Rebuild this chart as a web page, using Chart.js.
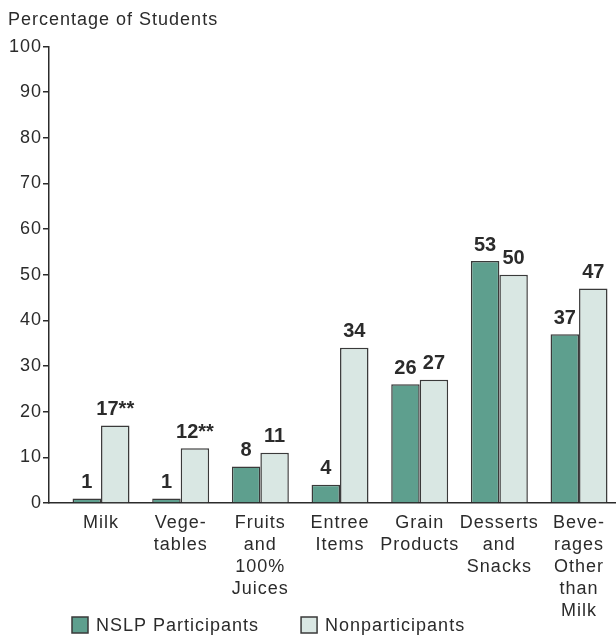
<!DOCTYPE html>
<html>
<head>
<meta charset="utf-8">
<script src="https://cdn.jsdelivr.net/npm/chart.js@4/dist/chart.umd.min.js"></script>
<style>
  html, body { margin: 0; padding: 0; background: #fff; }
  #wrap { width: 616px; height: 637px; }
</style>
</head>
<body>
<div id="wrap"><canvas id="foodChart"></canvas></div>
<script>
// Food categories (multi-line tick labels)
const categories = [
    ['Milk'],
    ['Vege-', 'tables'],
    ['Fruits', 'and', '100%', 'Juices'],
    ['Entree', 'Items'],
    ['Grain', 'Products'],
    ['Desserts', 'and', 'Snacks'],
    ['Beve-', 'rages', 'Other', 'than', 'Milk']
];

// Percent of students in each group
const participants = [1, 1, 8, 4, 26, 53, 37];
const nonparticipants = [17, 12, 11, 34, 27, 50, 47];
// Significance markers appended to the value labels
const participantNotes = ['', '', '', '', '', '', ''];
const nonparticipantNotes = ['**', '**', '', '', '', '', ''];

const yTicks = [0, 10, 20, 30, 40, 50, 60, 70, 80, 90, 100];

const FONT = "'Liberation Sans', Arial, Helvetica, sans-serif";
const INK = '#2b2b2b';

const toPoints = arr => arr.map((v, i) => ({ x: i, y: v }));

// Wider tracking for all canvas text
const spacingPlugin = {
    id: 'spacing',
    beforeUpdate(chart) { chart.ctx.letterSpacing = '1px'; },
    beforeDraw(chart) { chart.ctx.letterSpacing = '1px'; }
};

// Bold value labels above each bar
const valueLabels = {
    id: 'valueLabels',
    afterDatasetsDraw(chart) {
        const ctx = chart.ctx;
        ctx.save();
        ctx.letterSpacing = '0px';
        ctx.font = 'bold 20px ' + FONT;
        ctx.fillStyle = INK;
        ctx.textAlign = 'center';
        ctx.textBaseline = 'bottom';
        chart.data.datasets.forEach((ds, di) => {
            const meta = chart.getDatasetMeta(di);
            meta.data.forEach((bar, i) => {
                const text = ds.data[i].y + ds.notes[i];
                ctx.fillText(text, bar.x, bar.y - 6);
            });
        });
        ctx.restore();
    }
};

// Legend row along the bottom-left
const bottomLegend = {
    id: 'bottomLegend',
    afterDraw(chart) {
        const ctx = chart.ctx;
        const area = chart.chartArea;
        ctx.save();
        ctx.font = '18px ' + FONT;
        ctx.textBaseline = 'middle';
        ctx.textAlign = 'left';
        let x = area.left + 23;
        const yMid = chart.height - 12;
        chart.data.datasets.forEach(ds => {
            ctx.fillStyle = ds.backgroundColor;
            ctx.strokeStyle = ds.borderColor;
            ctx.lineWidth = 1.5;
            ctx.fillRect(x, yMid - 8, 16, 16);
            ctx.strokeRect(x, yMid - 8, 16, 16);
            ctx.fillStyle = INK;
            ctx.fillText(ds.label, x + 24, yMid + 1);
            x += 24 + ctx.measureText(ds.label).width + 42;
        });
        ctx.restore();
    }
};

new Chart(document.getElementById('foodChart'), {
    type: 'bar',
    data: {
        datasets: [
            {
                label: 'NSLP Participants',
                data: toPoints(participants),
                notes: participantNotes,
                backgroundColor: '#5e9f8e',
                borderColor: '#3a3a3a',
                borderWidth: 1.5,
                categoryPercentage: 0.715,
                barPercentage: 1.0
            },
            {
                label: 'Nonparticipants',
                data: toPoints(nonparticipants),
                notes: nonparticipantNotes,
                backgroundColor: '#d9e7e3',
                borderColor: '#3a3a3a',
                borderWidth: 1.5,
                categoryPercentage: 0.715,
                barPercentage: 1.0
            }
        ]
    },
    plugins: [spacingPlugin, valueLabels, bottomLegend],
    options: {
        responsive: true,
        maintainAspectRatio: false,
        animation: false,
        layout: { padding: { left: 8, right: 0, top: 0, bottom: 0 } },
        plugins: {
            legend: { display: false },
            tooltip: { enabled: false },
            title: {
                display: true,
                text: 'Percentage of Students',
                align: 'start',
                color: INK,
                font: { family: FONT, size: 18, weight: 'normal' },
                padding: { top: 9, bottom: 16 }
            }
        },
        scales: {
            x: {
                type: 'linear',
                offset: false,
                min: -0.653,
                max: 6.464,
                grid: { display: false, drawTicks: false },
                border: { display: true, color: INK, width: 1.5 },
                afterBuildTicks: scale => {
                    scale.ticks = categories.map((c, i) => ({ value: i }));
                },
                afterFit: scale => { scale.height = 134; },
                ticks: {
                    autoSkip: false,
                    maxRotation: 0,
                    padding: 9,
                    color: INK,
                    font: { family: FONT, size: 18, lineHeight: 1.22 },
                    callback: value => categories[value]
                }
            },
            y: {
                min: 0,
                max: 100,
                afterBuildTicks: scale => {
                    scale.ticks = yTicks.map(v => ({ value: v }));
                },
                afterFit: scale => { scale.width = 41; },
                grid: {
                    drawOnChartArea: false,
                    drawTicks: true,
                    tickLength: 6,
                    color: INK,
                    lineWidth: 1.5
                },
                border: { display: true, color: INK, width: 1.5 },
                ticks: {
                    padding: 1,
                    color: INK,
                    font: { family: FONT, size: 18 }
                }
            }
        }
    }
});
</script>
</body>
</html>
